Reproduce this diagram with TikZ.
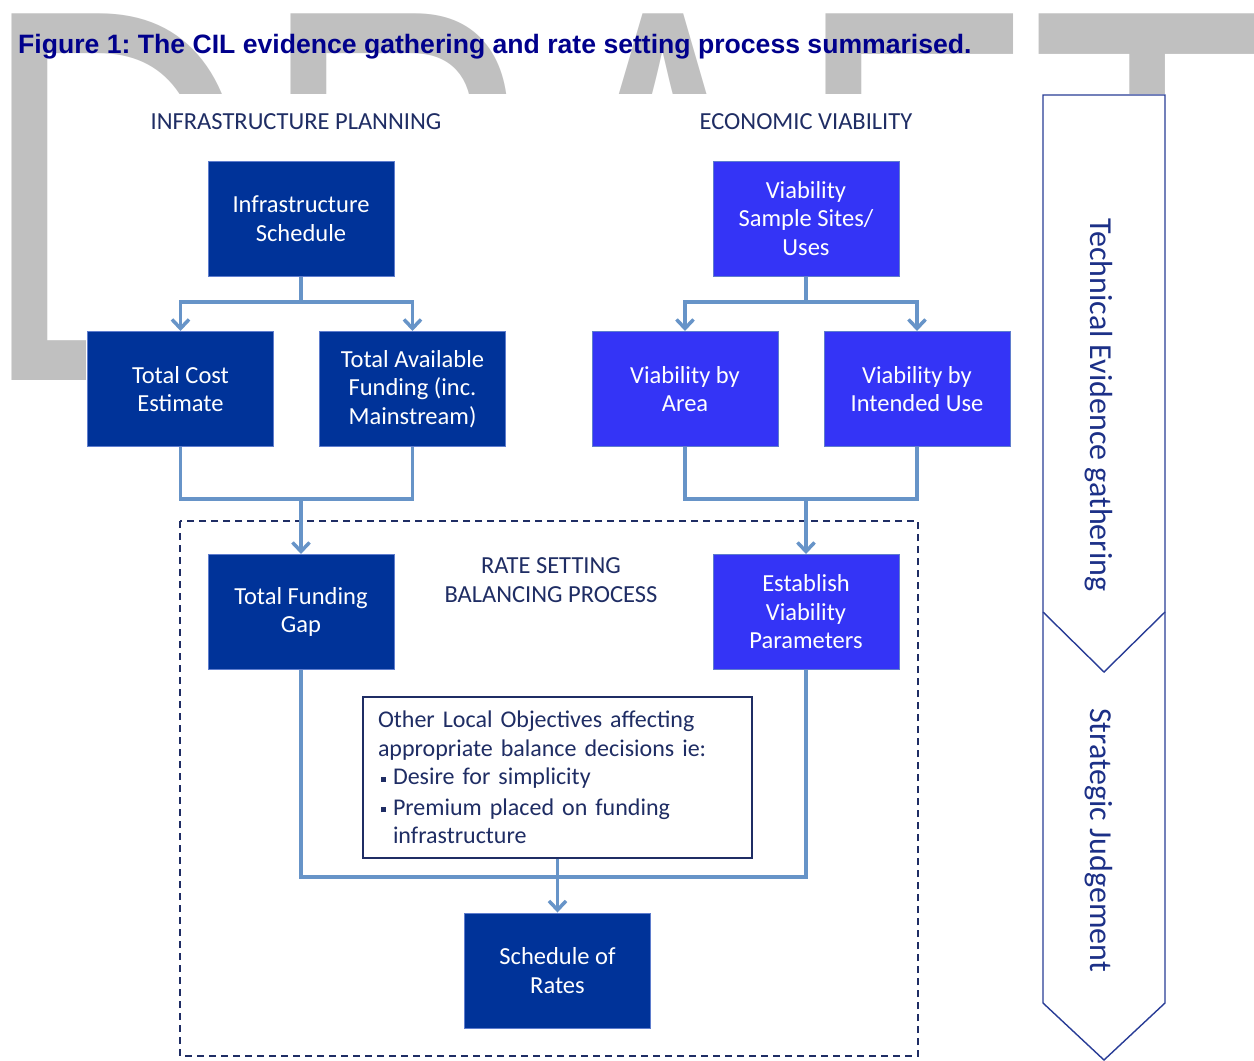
\documentclass[tikz,border=0pt]{standalone}
\usepackage{fontspec}
\setmainfont{Carlito}
\newfontfamily\arialfont{Liberation Sans}
\usetikzlibrary{arrows.meta,calc}
\definecolor{wmgrey}{RGB}{192,192,192}
\definecolor{titleblue}{RGB}{0,0,140}
\definecolor{darkbox}{RGB}{0,51,153}
\definecolor{brightbox}{RGB}{52,52,246}
\definecolor{boxedge}{RGB}{95,125,205}
\definecolor{connblue}{RGB}{103,148,200}
\definecolor{navytext}{RGB}{31,45,100}
\definecolor{arrowline}{RGB}{40,60,150}
\definecolor{arrowtext}{RGB}{28,48,135}
\newcommand{\sqbul}{\rule[0.25ex]{5pt}{5pt}}
\frenchspacing
\begin{document}
\begin{tikzpicture}[x=1pt,y=-1pt,
  wm/.style={anchor=base west, inner sep=0pt, text=wmgrey, font=\arialfont\fontsize{533}{533}\selectfont},
  box/.style={minimum width=186pt, minimum height=115pt, inner sep=0pt, align=center, text=white,
    draw=boxedge, line width=1pt, font=\fontsize{24.5}{28.5}\selectfont},
  dbox/.style={box, fill=darkbox},
  bbox/.style={box, fill=brightbox},
  header/.style={inner sep=0pt, align=center, text=navytext, font=\fontsize{24.5}{28.5}\selectfont},
  conn/.style={draw=connblue, line width=3.5pt},
  arr/.style={conn, -{Straight Barb[length=9pt,width=17pt]}},
  dashbox/.style={draw=navytext, line width=1.4pt, dash pattern=on 7pt off 5pt},
  sidetext/.style={rotate=-90, inner sep=0pt, text=arrowtext, font=\fontsize{32}{36}\selectfont}
]
\useasboundingbox (0,0) rectangle (1254,1061);
\fill[white] (0,0) rectangle (1254,1061);
\begin{scope}
\clip (0,0) rectangle (1254,1061);
% DRAFT watermark
\node[wm] (wmD) at (-19.6,380) {\scalebox{0.72}[1]{D}};
\node[wm] (wmR) at (258.8,380) {\scalebox{0.72}[1]{R}};
\node[wm] (wmA) at (534,380) {\scalebox{0.72}[1]{A}};
\node[wm] (wmF) at (794.5,380) {\scalebox{0.72}[1]{F}};
\node[wm] (wmT) at (1030,380) {\scalebox{0.72}[1]{T}};
% white area of the diagram
\fill[white] (86,94) rectangle (1175,1061);
\end{scope}

% title
\node[anchor=base west, inner sep=0pt, text=titleblue, font=\arialfont\bfseries\fontsize{26.6}{30}\selectfont]
  (title) at (18,53) {Figure 1: The CIL evidence gathering and rate setting process summarised.};

% headers
\node[header] (hip) at (296,122) {INFRASTRUCTURE PLANNING};
\node[header] (hev) at (806,122) {ECONOMIC VIABILITY};

% dashed frame
\draw[dashbox] (180,521) rectangle (918,1056);
\node[header] (rsb) at (551,580) {RATE SETTING\\BALANCING PROCESS};

% boxes
\node[dbox] (is) at (301,218.5) {Infrastructure\\Schedule};
\node[dbox] (tc) at (180.5,389) {Total Cost\\Estimate};
\node[dbox] (ta) at (412.5,389) {Total Available\\Funding (inc.\\Mainstream)};
\node[bbox] (vs) at (806,218.5) {Viability\\Sample Sites/\\Uses};
\node[bbox] (va) at (685,389) {Viability by\\Area};
\node[bbox] (vi) at (917,389) {Viability by\\Intended Use};
\node[dbox] (tfg) at (301,612) {Total Funding\\Gap};
\node[bbox] (evp) at (806,612) {Establish\\Viability\\Parameters};
\node[dbox] (sr) at (557.5,970.5) {Schedule of\\Rates};
\node[draw=navytext, line width=1.4pt, fill=white, minimum width=389pt, minimum height=161pt,
  text width=359pt, inner xsep=15pt, inner ysep=0pt, align=left, text=navytext,
  font=\fontsize{24}{28.5}\selectfont] (olo) at (557.5,777.5)
  {Other Local Objectives affecting\\
   appropriate balance decisions ie:\\
   \hspace*{3pt}\makebox[12pt][l]{\sqbul}Desire for simplicity\\[2pt]
   \hspace*{3pt}\makebox[12pt][l]{\sqbul}Premium placed on funding\\
   \hspace*{15pt}infrastructure};

% junction coordinates
\coordinate (j1) at (301,302);
\coordinate (j2) at (806,302);
\coordinate (m1) at (301,499);
\coordinate (m2) at (806,499);
\coordinate (m3) at (557.5,877);

% connectors
\draw[conn] (is.south) -- (j1);
\draw[arr] (j1) -| (tc.north);
\draw[arr] (j1) -| (ta.north);
\draw[conn] (vs.south) -- (j2);
\draw[arr] (j2) -| (va.north);
\draw[arr] (j2) -| (vi.north);
\draw[conn] (tc.south) -- (tc.south |- m1) -- (ta.south |- m1) -- (ta.south);
\draw[arr] (m1) -- (tfg.north);
\draw[conn] (va.south) -- (va.south |- m2) -- (vi.south |- m2) -- (vi.south);
\draw[arr] (m2) -- (evp.north);
\draw[conn] (tfg.south) -- (tfg.south |- m3) -- (evp.south |- m3) -- (evp.south);
\draw[arr] (olo.south) -- (sr.north);

% side chevrons
\draw[arrowline, line width=1.4pt, line join=miter]
  (1043,95) -- (1165,95) -- (1165,1003) -- (1104,1060) -- (1043,1003) -- cycle;
\draw[arrowline, line width=1.4pt] (1043,612) -- (1104,672) -- (1165,612);
\node[sidetext] (teg) at (1099,405) {Technical Evidence gathering};
\node[sidetext] (sj) at (1099,840) {Strategic Judgement};
\end{tikzpicture}
\end{document}
